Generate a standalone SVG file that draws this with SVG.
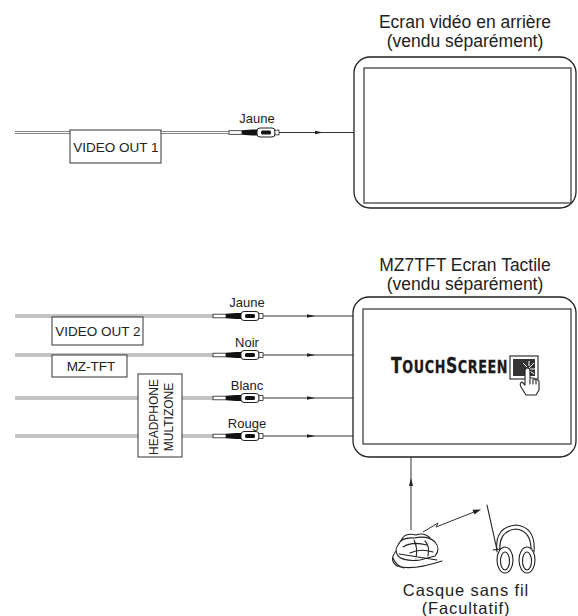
<svg xmlns="http://www.w3.org/2000/svg" xmlns:xlink="http://www.w3.org/1999/xlink" width="578" height="616" viewBox="0 0 578 616">
  <style>
    .title { font-family: "Liberation Sans", Arial, sans-serif; font-size: 17.5px; fill: #222; text-anchor: middle; }
    .lbl { font-family: "Liberation Sans", Arial, sans-serif; font-size: 13px; fill: #222; text-anchor: middle; }
    .boxlbl { font-family: "Liberation Sans", Arial, sans-serif; font-size: 13.5px; fill: #222; text-anchor: middle; }
    .vlbl { font-family: "Liberation Sans", Arial, sans-serif; font-size: 12px; fill: #222; text-anchor: middle; }
    .foot { font-family: "Liberation Sans", Arial, sans-serif; font-size: 16.5px; fill: #222; text-anchor: middle; letter-spacing: 0.9px; }
    .box { fill: #fff; stroke: #333; stroke-width: 1; }
    .frame { fill: #fff; stroke: #222; stroke-width: 1.3; }
    .panel { fill: #fff; stroke: #333; stroke-width: 1.2; }
    .cable-outer { fill: none; stroke: #888; stroke-width: 3.2; }
    .cable-inner { fill: none; stroke: #fff; stroke-width: 1.2; }
    .wire { fill: none; stroke: #333; stroke-width: 1; }
    .ink { fill: none; stroke: #222; stroke-width: 1.1; stroke-linecap: round; stroke-linejoin: round; }
    .inkw { fill: #fff; stroke: #222; stroke-width: 1.1; stroke-linejoin: round; }
    .logo { font-family: "DejaVu Sans", "Liberation Sans", sans-serif; font-weight: bold; fill: #1a1a1a; stroke: #1a1a1a; stroke-width: 0.3; letter-spacing: 0.8px; }
  </style>
  <defs>
    <!-- RCA plug, origin at the cable end, centred on the cable axis -->
    <g id="plug">
      <rect x="0" y="-1.8" width="13" height="3.6" fill="#fff" stroke="#222" stroke-width="0.8"/>
      <path d="M13,-2.2 L23,-2.9 L29,-3.1 L29,3.1 L23,2.9 L13,2.2 Z" fill="#111"/>
      <rect x="28" y="-4.5" width="18" height="9" rx="3" fill="#fff" stroke="#222" stroke-width="1"/>
      <rect x="32" y="-2" width="10" height="4" rx="1.5" fill="#111"/>
      <rect x="46" y="-2.4" width="4" height="4.8" fill="#fff" stroke="#222" stroke-width="0.8"/>
    </g>
    <path id="arrowR" d="M0,-1.8 L8,0 L0,1.8 Z" fill="#222"/>
  </defs>

  <!-- titles -->
  <text class="title" x="465" y="28">Ecran vidéo en arrière</text>
  <text class="title" x="465" y="47">(vendu séparément)</text>
  <text class="title" x="465" y="271">MZ7TFT Ecran Tactile</text>
  <text class="title" x="465" y="290">(vendu séparément)</text>

  <!-- connectors -->
  <g id="connectors">
    <!-- top video feed -->
    <path class="cable-outer" d="M15,132.5 H229"/>
    <path class="cable-inner" d="M15,132.5 H229"/>
    <use xlink:href="#plug" x="229" y="132.5"/>
    <path class="wire" d="M279,132.5 H354"/>
    <use xlink:href="#arrowR" x="315" y="132.5"/>

    <!-- touch screen feeds -->
    <path class="cable-outer" d="M15,316 H213 M15,355 H213 M15,398 H213 M15,436 H213"/>
    <path class="cable-inner" d="M15,316 H213 M15,355 H213 M15,398 H213 M15,436 H213"/>
    <use xlink:href="#plug" x="213" y="316"/>
    <use xlink:href="#plug" x="213" y="355"/>
    <use xlink:href="#plug" x="213" y="398"/>
    <use xlink:href="#plug" x="213" y="436"/>
    <path class="wire" d="M263,316 H353 M263,355 H353 M263,398 H353 M263,436 H353"/>
    <use xlink:href="#arrowR" x="307" y="316"/>
    <use xlink:href="#arrowR" x="307" y="355"/>
    <use xlink:href="#arrowR" x="307" y="398"/>
    <use xlink:href="#arrowR" x="307" y="436"/>

    <!-- wireless link -->
    <path class="wire" d="M411,457 V530"/>
    <path d="M411,478 L413,486 L409,486 Z" fill="#222"/>
    <path class="wire" d="M423,532 L438,523 L436,527 L474,512"/>
    <path d="M481,509.5 L472.5,509.8 L474.5,514.5 Z" fill="#222"/>

    <!-- labels -->
    <text class="lbl" x="257" y="123">Jaune</text>
    <text class="lbl" x="247" y="307">Jaune</text>
    <text class="lbl" x="247" y="347">Noir</text>
    <text class="lbl" x="247" y="390">Blanc</text>
    <text class="lbl" x="247" y="428">Rouge</text>
  </g>

  <!-- source boxes -->
  <g id="video-out-1">
    <rect class="box" x="70" y="130" width="91" height="33"/>
    <text class="boxlbl" x="116" y="152">VIDEO OUT 1</text>
  </g>
  <g id="video-out-2">
    <rect class="box" x="52" y="317" width="91" height="28"/>
    <text class="boxlbl" x="98" y="336">VIDEO OUT 2</text>
  </g>
  <g id="mz-tft">
    <rect class="box" x="52" y="355" width="75" height="22"/>
    <text class="boxlbl" x="91" y="371">MZ-TFT</text>
  </g>
  <g id="headphone-multizone">
    <rect class="box" x="138" y="374" width="44" height="83"/>
    <text class="vlbl" transform="translate(157.5,417) rotate(-90)">HEADPHONE</text>
    <text class="vlbl" transform="translate(173,417) rotate(-90)">MULTIZONE</text>
  </g>

  <!-- rear video screen -->
  <g id="rear-screen">
    <rect class="frame" x="354" y="57" width="222" height="151" rx="16"/>
    <rect class="panel" x="364" y="68" width="207" height="135"/>
  </g>

  <!-- touch screen -->
  <g id="touch-screen">
    <rect class="frame" x="353" y="297" width="223" height="160" rx="16"/>
    <rect class="panel" x="363" y="309" width="208" height="135"/>
    <!-- condensed small-caps wordmark -->
    <text class="logo" font-size="17" transform="translate(391,373) scale(0.75,1)"><tspan font-size="21">T</tspan>OUCH<tspan font-size="21">S</tspan>CREEN</text>
    <rect x="510" y="356" width="28" height="23" fill="#fff" stroke="#333" stroke-width="1.2"/>
    <rect x="513" y="359" width="22" height="17" fill="#333"/>
    <path d="M529,368 L534,363 M530,369 L536,369 M529,366 L529,361 M527,367 L523,363 M530,371 L534,374" stroke="#fff" stroke-width="1"/>
    <path class="inkw" d="M526,395 L521,387 Q519,383 522,382 L525,385 L525,371 Q525,368 527.5,368 Q530,368 530,371 L530,378 L533,378 Q535,378 535,380 L537,380 Q539,380 539,382 L539,390 L536,395 Z"/>
    <path class="ink" d="M530,379 V384 M533,379 V384 M536,381 V384"/>
  </g>

  <!-- wireless transmitter and headset -->
  <g id="wireless-headset">
    <path class="ink" d="M397,550 Q388,560 397,566 Q412,571 442,561"/>
    <path class="ink" d="M393,558 Q396,566 404,568"/>
    <path class="ink" d="M401,541 Q404,532 416,535 Q424,532 430,538"/>
    <path class="inkw" d="M398,545 Q401,537 414,538 Q428,535 435,542 Q441,549 435,556 L420,560 Q405,562 398,556 Q394,550 398,545 Z"/>
    <path class="ink" d="M403,547 Q412,541 427,545 M410,553 Q420,548 433,552 M414,540 Q418,548 416,558 M399,554 L437,560 M425,541 Q430,546 428,556"/>
    <path class="ink" d="M487,505 L497,550"/>
    <path class="ink" d="M497,552 Q494,527 516,525 Q536,527 534,552"/>
    <path class="ink" d="M500,552 Q498,531 516,529 Q532,531 531,552"/>
    <path class="ink" d="M493,550 L500,549"/>
    <ellipse class="inkw" cx="505" cy="560" rx="8" ry="13"/>
    <ellipse class="ink" cx="505" cy="561" rx="4.5" ry="9"/>
    <ellipse class="inkw" cx="527" cy="560" rx="8" ry="13"/>
    <ellipse class="ink" cx="527" cy="561" rx="4.5" ry="9"/>
    <text class="foot" x="466" y="596">Casque sans fil</text>
    <text class="foot" x="466" y="614">(Facultatif)</text>
  </g>
</svg>
